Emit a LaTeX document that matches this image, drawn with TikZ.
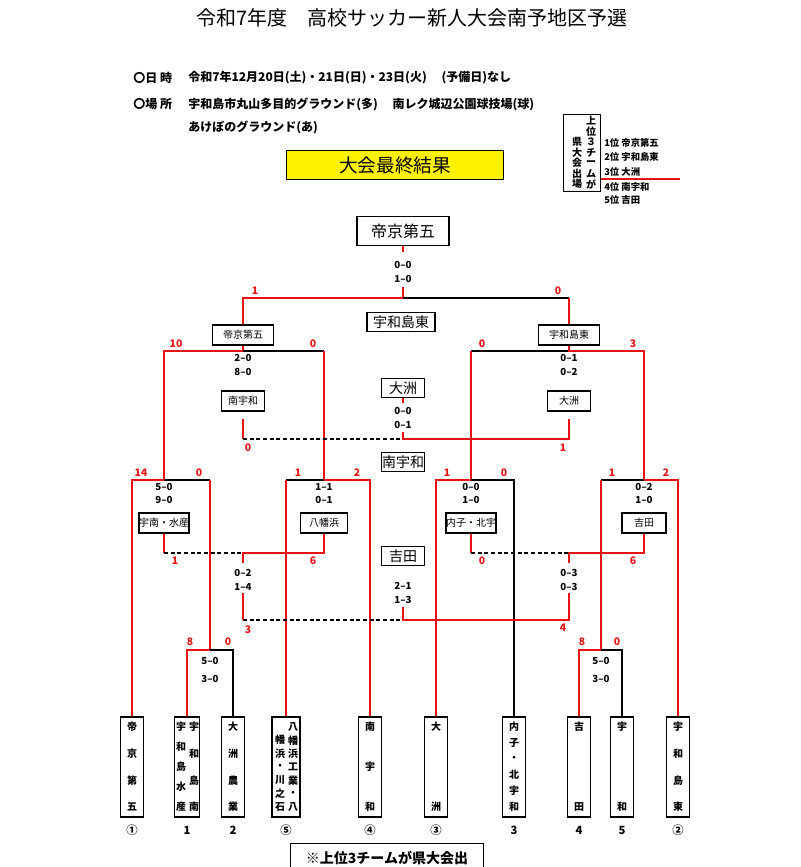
\documentclass[tikz,border=0pt]{standalone}
\usepackage{fontspec}
\setmainfont{Noto Sans CJK JP}
\definecolor{rd}{RGB}{232,20,20}
\newcommand{\vcol}[4]{\foreach \c [count=\i] in {#4} {\node[tc] at (#1,{#2+(\i-1)*#3}) {\c};}}
\begin{document}
\begin{tikzpicture}[x=0.75pt,y=-0.75pt,
 rl/.style={draw=rd,line width=1.5pt},
 bl/.style={draw=black,line width=0.8pt},
 dl/.style={draw=black,line width=0.8pt,dash pattern=on 3pt off 2pt},
 sc/.style={font=\fontsize{7.3}{8}\selectfont\bfseries},
 rn/.style={text=rd,font=\fontsize{7.8}{8}\selectfont\bfseries},
 bx/.style={draw,line width=0.8pt,inner sep=0pt,minimum height=15pt,font=\fontsize{7.5}{8}\selectfont},
 lb/.style={draw,line width=0.8pt,inner sep=0pt,minimum height=14pt,font=\fontsize{10.5}{11}\selectfont},
 tb/.style={draw,line width=1.2pt,minimum width=17pt,minimum height=75pt,inner sep=0pt},
 tc/.style={font=\fontsize{7.5}{8}\selectfont\bfseries,inner sep=0pt},
 info/.style={anchor=west,font=\fontsize{9}{10}\selectfont\bfseries,inner sep=0pt},
 lg/.style={anchor=west,font=\fontsize{7}{8}\selectfont\bfseries,inner sep=0pt}]
\clip (0,0) rectangle (800,867);
\fill[white] (0,0) rectangle (800,867);
% header
\node[font=\fontsize{15}{16}\selectfont] (title) at (412,18) {令和7年度　高校サッカー新人大会南予地区予選};
\node[info] (i1) at (133,78) {〇日\ 時};
\node[info] (i1b) at (188,78) {令和7年12月20日(土)・21日(日)・23日(火)　\ (予備日)なし};
\node[info] (i2) at (133,104) {〇場\ 所};
\node[info] (i2b) at (188,104) {宇和島市丸山多目的グラウンド(多)　\ 南レク城辺公園球技場(球)};
\node[info] (i3) at (188,127) {あけぼのグラウンド(あ)};
\node[draw,fill=yellow,line width=0.8pt,minimum width=163pt,minimum height=22pt,font=\fontsize{14}{15}\selectfont] (res) at (395,165) {大会最終結果};
% legend
\node[draw,line width=0.8pt,minimum width=28pt,minimum height=58pt] (lgb) at (582,153) {};
\vcol{591}{121}{10.5}{上,位,３,チ,ー,ム,が}
\vcol{577}{142}{10.5}{県,大,会,出,場}
\node[lg] (l1) at (604,143) {1位 帝京第五};
\node[lg] (l2) at (604,157) {2位 宇和島東};
\node[lg] (l3) at (604,172) {3位 大洲};
\node[lg] (l4) at (604,187) {4位 南宇和};
\node[lg] (l5) at (604,200) {5位 吉田};
\coordinate (lr) at (680,179);
\draw[draw=rd,line width=1.2pt] (lgb.east |- lr) -- (lr);
% boxes
\node[draw,line width=1pt,minimum width=69pt,minimum height=22pt,font=\fontsize{12}{13}\selectfont] (champ) at (403,231) {帝京第五};
\node[lb,minimum width=51pt] (L1) at (401,322) {宇和島東};
\node[lb,minimum width=32pt] (L2) at (403,388) {大洲};
\node[lb,minimum width=32pt] (L3) at (403,462) {南宇和};
\node[lb,minimum width=32pt] (L4) at (403,556) {吉田};
\node[bx,minimum width=46pt] (b1) at (243,335) {帝京第五};
\node[bx,minimum width=46pt] (b2) at (569,335) {宇和島東};
\node[bx,minimum width=32pt] (b3) at (243,401) {南宇和};
\node[bx,minimum width=32pt] (b4) at (569,401) {大洲};
\node[bx,minimum width=33pt] (b5) at (164,523) {宇南・水産};
\node[bx,minimum width=35pt] (b6) at (324,523) {八幡浜};
\node[bx,minimum width=33pt] (b7) at (471,523) {内子・北宇};
\node[bx,minimum width=33pt] (b8) at (644,523) {吉田};
% team boxes
\node[tb] (t1) at (132,767) {}; \vcol{132}{727}{26.7}{帝,京,第,五}
\node[tb,minimum width=19pt] (t2) at (187,767) {};
\vcol{181}{727}{20}{宇,和,島,水,産} \vcol{194}{727}{26.7}{宇,和,島,南}
\node[tb] (t3) at (233,767) {}; \vcol{233}{727}{26.7}{大,洲,農,業}
\node[tb,minimum width=21pt] (t4) at (286,767) {};
\vcol{280}{740}{13.4}{幡,浜,・,川,之,石} \vcol{293}{727}{13.4}{八,幡,浜,工,業,・,八}
\node[tb] (t5) at (370,767) {}; \vcol{370}{727}{40}{南,宇,和}
\node[tb] (t6) at (436,767) {}; \vcol{436}{727}{80}{大,洲}
\node[tb] (t7) at (514,767) {}; \vcol{514}{727}{16}{内,子,・,北,宇,和}
\node[tb] (t8) at (579,767) {}; \vcol{579}{727}{80}{吉,田}
\node[tb] (t9) at (622,767) {}; \vcol{622}{727}{80}{宇,和}
\node[tb] (t10) at (678,767) {}; \vcol{678}{727}{26.7}{宇,和,島,東}
\foreach \x/\t [count=\k] in {132/①,187/1,233/2,286/⑤,370/④,436/③,514/3,579/4,622/5,678/②}
  \node[font=\fontsize{8.5}{9}\selectfont\bfseries] (n\k) at (\x,830) {\t};
\node[draw,line width=0.8pt,anchor=north,minimum width=145pt,minimum height=22pt,font=\fontsize{10.5}{11}\selectfont\bfseries] (note) at (387,843) {※上位3チームが県大会出};
% final
\draw[rl] (champ.south) -- (403,252);
\draw[rl] (403,287) -- (403,298) -- (243,298) -- (b1.north);
\draw[bl] (403,298) -- (569,298);
\draw[rl] (569,298) -- (b2.north);
\node[sc] (s1) at (403,265) {0–0}; \node[sc] (s2) at (403,279) {1–0};
\node[rn] at (255,291) {1}; \node[rn] at (558,291) {0};
% semis
\draw[rl] (164,480) -- (164,351) -- (243,351) -- (b1.south);
\draw[bl] (243,351) -- (324,351);
\draw[rl] (324,351) -- (324,480);
\node[rn] at (176,344) {10}; \node[rn] at (313,344) {0};
\node[sc] at (243,358) {2–0}; \node[sc] at (243,372) {8–0};
\draw[bl] (471,351) -- (569,351);
\draw[rl] (471,351) -- (471,480);
\draw[rl] (b2.south) -- (569,351) -- (644,351) -- (644,480);
\node[rn] at (482,344) {0}; \node[rn] at (633,344) {3};
\node[sc] at (569,358) {0–1}; \node[sc] at (569,372) {0–2};
% 3rd place
\draw[rl] (243,419) -- (243,439);
\draw[dl] (243,439) -- (403,439);
\draw[rl] (403,432) -- (403,439) -- (569,439) -- (569,419);
\draw[rl] (L2.south) -- (403,403);
\node[sc] at (403,411) {0–0}; \node[sc] at (403,425) {0–1};
\node[rn] at (248,448) {0}; \node[rn] at (563,448) {1};
% quarter finals
\draw[bl] (164,480) -- (210,480);
\draw[rl] (t1.north) -- (132,480) -- (164,480);
\draw[rl] (210,480) -- (210,650) -- (187,650) -- (t2.north);
\draw[bl] (210,650) -- (233,650) -- (t3.north);
\node[rn] at (141,473) {14}; \node[rn] at (199,473) {0};
\node[sc] at (164,487) {5–0}; \node[sc] at (164,500) {9–0};
\node[rn] at (190,642) {8}; \node[rn] at (228,642) {0};
\node[sc] at (210,661) {5–0}; \node[sc] at (210,679) {3–0};
\draw[bl] (286,480) -- (324,480);
\draw[rl] (t4.north) -- (286,480);
\draw[rl] (324,480) -- (370,480) -- (t5.north);
\node[rn] at (298,473) {1}; \node[rn] at (357,473) {2};
\node[sc] at (324,487) {1–1}; \node[sc] at (324,500) {0–1};
\draw[rl] (t6.north) -- (436,480) -- (471,480);
\draw[bl] (471,480) -- (514,480) -- (t7.north);
\node[rn] at (447,473) {1}; \node[rn] at (504,473) {0};
\node[sc] at (471,487) {0–0}; \node[sc] at (471,500) {1–0};
\draw[bl] (601,480) -- (644,480);
\draw[rl] (644,480) -- (678,480) -- (t10.north);
\draw[rl] (601,480) -- (601,650) -- (579,650) -- (t8.north);
\draw[bl] (601,650) -- (622,650) -- (t9.north);
\node[rn] at (612,473) {1}; \node[rn] at (666,473) {2};
\node[sc] at (644,487) {0–2}; \node[sc] at (644,500) {1–0};
\node[rn] at (582,642) {8}; \node[rn] at (617,642) {0};
\node[sc] at (601,661) {5–0}; \node[sc] at (601,679) {3–0};
% 5th place
\draw[rl] (b5.south) -- (164,553);
\draw[dl] (164,553) -- (243,553);
\draw[rl] (243,563) -- (243,553) -- (324,553) -- (b6.south);
\node[rn] at (175,561) {1}; \node[rn] at (313,561) {6};
\node[sc] at (243,573) {0–2}; \node[sc] at (243,587) {1–4};
\draw[rl] (b7.south) -- (471,553);
\draw[dl] (471,553) -- (569,553);
\draw[rl] (569,563) -- (569,553) -- (644,553) -- (b8.south);
\node[rn] at (482,561) {0}; \node[rn] at (633,561) {6};
\node[sc] at (569,573) {0–3}; \node[sc] at (569,587) {0–3};
\draw[rl] (243,593) -- (243,620);
\draw[dl] (243,620) -- (403,620);
\draw[rl] (403,607) -- (403,620) -- (569,620) -- (569,593);
\node[sc] at (403,586) {2–1}; \node[sc] at (403,600) {1–3};
\node[rn] at (248,630) {3}; \node[rn] at (563,628) {4};
\end{tikzpicture}
\end{document}
